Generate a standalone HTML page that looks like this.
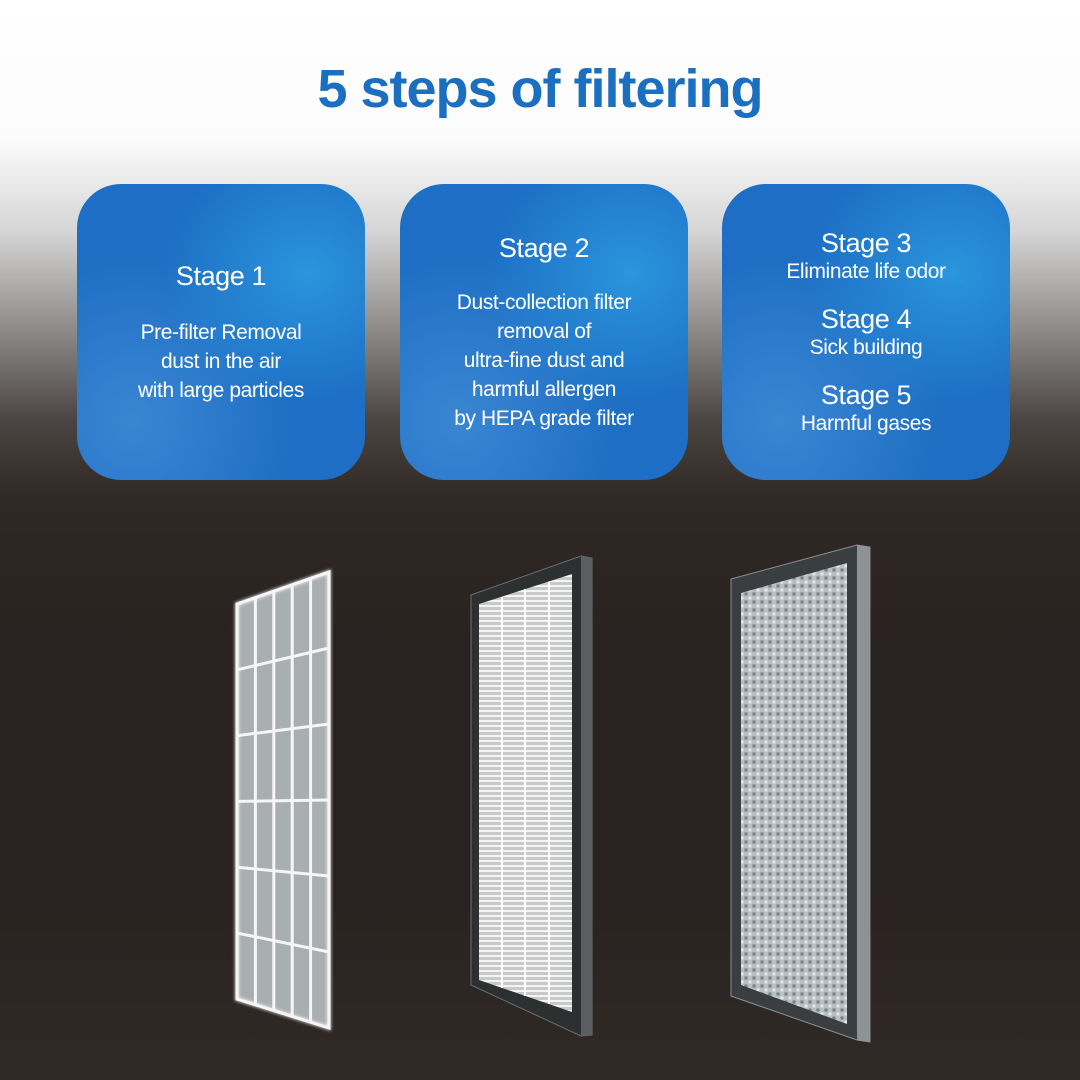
<!DOCTYPE html>
<html><head><meta charset="utf-8"><style>
html,body{margin:0;padding:0}
body{width:1080px;height:1080px;position:relative;overflow:hidden;font-family:"Liberation Sans",sans-serif;
background:linear-gradient(180deg,#ffffff 0px,#fbfbfb 140px,#d6d6d6 230px,#8d8a88 330px,#4a4542 420px,#2f2825 500px,#2a2220 640px,#2a2220 900px,#302a27 1080px);}
h1{position:absolute;top:58px;left:0;width:1080px;text-align:center;margin:0;font-size:54px;font-weight:bold;color:#1b6fc0;letter-spacing:-1px}
.box{position:absolute;top:184px;width:288px;height:296px;border-radius:44px;color:#fff;text-align:center;
background:radial-gradient(ellipse at 80% 30%,#2a95dd 0%,rgba(42,149,221,0) 45%),radial-gradient(ellipse at 20% 80%,#3a86d2 0%,rgba(58,134,210,0) 50%),#1d6ec4;
display:flex;flex-direction:column;justify-content:center;letter-spacing:-0.4px}
.t{font-size:27px;line-height:32px}
.b{font-size:21px;line-height:29px}
</style></head><body>
<h1>5 steps of filtering</h1>
<div class="box" style="left:77px"><div class="t">Stage 1</div><div class="b" style="margin-top:26px">Pre-filter Removal<br>dust in the air<br>with large particles</div></div>
<div class="box" style="left:400px"><div class="t">Stage 2</div><div class="b" style="margin-top:24px">Dust-collection filter<br>removal of<br>ultra-fine dust and<br>harmful allergen<br>by HEPA grade filter</div></div>
<div class="box" style="left:722px"><div class="t">Stage 3</div><div class="b" style="line-height:26px">Eliminate life odor</div><div class="t" style="margin-top:18px">Stage 4</div><div class="b" style="line-height:26px">Sick building</div><div class="t" style="margin-top:18px">Stage 5</div><div class="b" style="line-height:26px">Harmful gases</div></div>
<svg width="1080" height="1080" style="position:absolute;left:0;top:0">
<defs>
<pattern id="hl" width="6" height="5" patternUnits="userSpaceOnUse"><rect width="6" height="5" fill="#c9c9c9"/><rect width="6" height="2" fill="#f4f4f4"/></pattern>
<pattern id="dots" width="8" height="8" patternUnits="userSpaceOnUse"><rect width="8" height="8" fill="#b9c0c4"/><circle cx="2" cy="2" r="1.8" fill="#7d8488"/><circle cx="6" cy="6" r="1.6" fill="#e4e8ea"/></pattern>
<filter id="glow"><feGaussianBlur stdDeviation="1.5"/></filter>
</defs>
<!-- filter 1 -->
<polygon points="237,604 329,572 329,1028 237,999" fill="#a9aeb1"/>
<g stroke="#ffffff" stroke-width="4" fill="none" filter="url(#glow)" opacity="0.8">
<polygon points="237,604 329,572 329,1028 237,999"/>
</g>
<g stroke="#f6f6f6" stroke-width="3" fill="none">
<polygon points="237,604 329,572 329,1028 237,999"/>
<line x1="255.4" y1="597.6" x2="255.4" y2="1004.8"/>
<line x1="273.8" y1="591.2" x2="273.8" y2="1010.6"/>
<line x1="292.2" y1="584.8" x2="292.2" y2="1016.4"/>
<line x1="310.6" y1="578.4" x2="310.6" y2="1022.2"/>
<line x1="237" y1="669.8" x2="329" y2="648"/>
<line x1="237" y1="735.6" x2="329" y2="724"/>
<line x1="237" y1="801.4" x2="329" y2="800"/>
<line x1="237" y1="867.2" x2="329" y2="876"/>
<line x1="237" y1="933" x2="329" y2="952"/>
</g>
<!-- filter 2 -->
<polygon points="471,595 581,556 592,558 592,1035 581,1036 471,985" fill="#2d3031" stroke="#6a6e70" stroke-width="1"/>
<polygon points="581,556 592,558 592,1035 581,1036" fill="#5b5f61"/>
<polygon points="479,604 572,574 572,1012 479,980" fill="url(#hl)"/>
<g stroke="#ffffff" stroke-width="2"><line x1="502" y1="597" x2="502" y2="988"/><line x1="525" y1="589" x2="525" y2="996"/><line x1="549" y1="582" x2="549" y2="1004"/></g>
<!-- filter 3 -->
<polygon points="731,579 857,545 870,547 870,1042 857,1040 731,996" fill="#3a3e40" stroke="#8a8f92" stroke-width="1"/>
<polygon points="857,545 870,547 870,1042 857,1040" fill="#8c9295"/>
<polygon points="741,593 847,563 847,1024 741,985" fill="url(#dots)"/>
</svg>
</body></html>
